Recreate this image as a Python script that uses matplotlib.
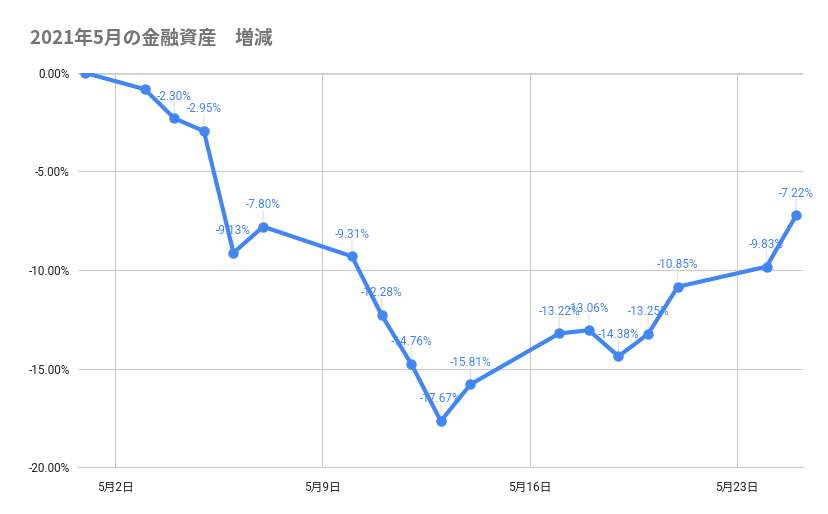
import matplotlib
matplotlib.use("Agg")
import matplotlib.pyplot as plt

plt.rcParams["font.family"] = ["Roboto", "Noto Sans CJK JP", "DejaVu Sans"]

TITLE = "2021年5月の金融資産\u3000増減"

# 日付 (5月の日) と増減率 (%)
days = [1, 3, 4, 5, 6, 7, 10, 11, 12, 13, 14, 17, 18, 19, 20, 21, 24, 25]
change = [0.00, -0.82, -2.30, -2.95, -9.13, -7.80, -9.31, -12.28, -14.76,
          -17.67, -15.81, -13.22, -13.06, -14.38, -13.25, -10.85, -9.83, -7.22]
# ラベルを表示する点 (元グラフでは最初の2点は表示なし)
show_label = [False, False] + [True] * 16

tick_days = [2, 9, 16, 23]
y_ticks = [0, -5, -10, -15, -20]

BLUE = "#4285F4"
GRID = "#cccccc"


def main():
    fig = plt.figure(figsize=(8.29, 5.14), dpi=100)
    ax = fig.add_axes([78 / 829, 47 / 514, 725 / 829, 394 / 514])

    ax.plot(days, change, color=BLUE, linewidth=3, marker="o",
            markersize=6.5, zorder=3, solid_joinstyle="round")

    for d, v, show in zip(days, change, show_label):
        if not show:
            continue
        ax.annotate(f"{v:.2f}%", xy=(d, v), xytext=(0, 16),
                    textcoords="offset points", ha="center", va="center",
                    fontsize=8.5, color=BLUE, zorder=4)
        ax.annotate("", xy=(d, v), xytext=(0, 11.5), textcoords="offset points",
                    arrowprops=dict(arrowstyle="-", color="#e0e0e0", lw=0.8,
                                    shrinkA=0, shrinkB=4), zorder=2)

    ax.set_xlim(0.75, 25.23)
    ax.set_ylim(-20, 0)
    ax.set_xticks(tick_days)
    ax.set_xticklabels([f"5月{d}日" for d in tick_days])
    ax.set_yticks(y_ticks)
    ax.set_yticklabels([f"{t:.2f}%" for t in y_ticks])

    ax.grid(True, color=GRID, linewidth=0.8, zorder=0)
    ax.axhline(0, color="#333333", linewidth=1, zorder=1)
    for side in ["left", "right", "top"]:
        ax.spines[side].set_visible(False)
    ax.spines["bottom"].set_color(GRID)
    ax.tick_params(length=0, labelsize=8.5, colors="#222222", pad=6)
    ax.tick_params(axis="x", pad=10)

    fig.text(30 / 829, 1 - 38 / 514, TITLE, fontsize=13.5, fontweight="bold",
             color="#757575", ha="left", va="center",
             family=["Noto Sans CJK JP", "DejaVu Sans"])

    fig.savefig("out.png", dpi=100)
    plt.close(fig)


if __name__ == "__main__":
    main()
